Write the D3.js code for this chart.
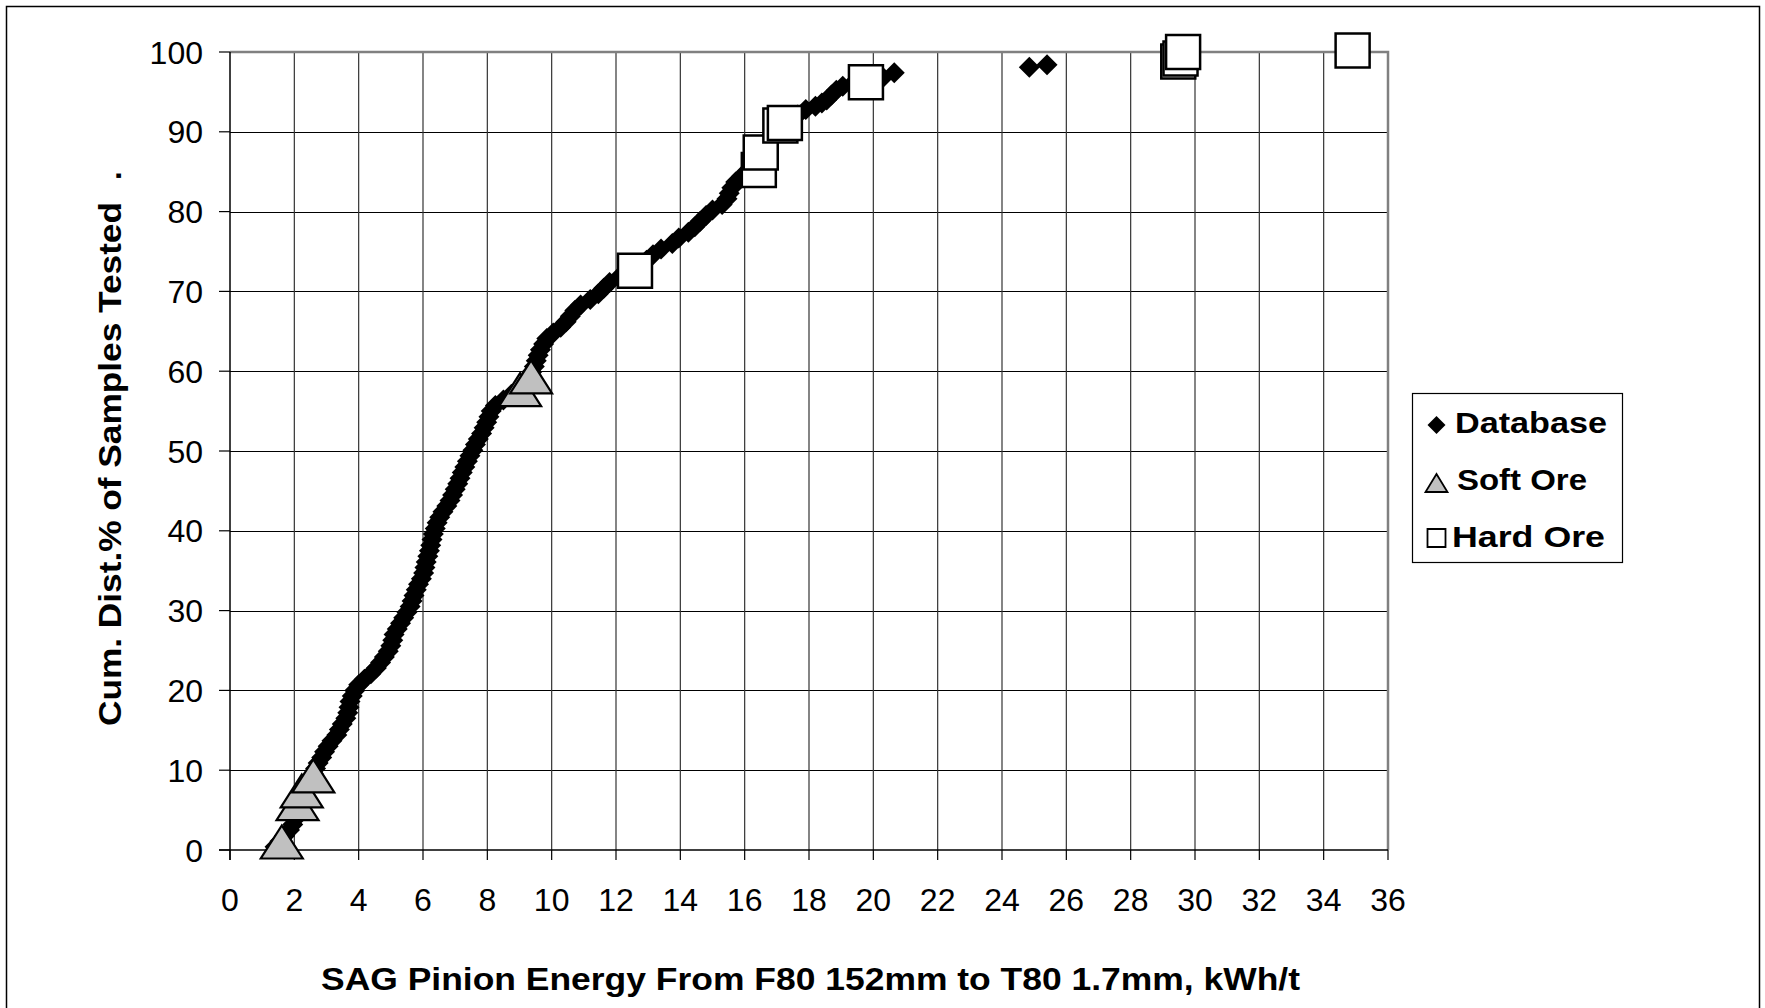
<!DOCTYPE html>
<html>
<head>
<meta charset="utf-8">
<script src="https://cdn.jsdelivr.net/npm/d3@7"></script>
<style>
  body { margin: 0; background: #fff; }
  text { font-family: Arial, "Liberation Sans", sans-serif; fill: #000; }
</style>
</head>
<body>
<div id="chart"></div>
<script>
// database samples: SAG pinion energy (kWh/t) and cumulative % of samples
var dbEnergy = [1.40, 1.55, 1.70, 1.85, 1.95, 2.02, 2.08, 2.14, 2.20, 2.28, 2.36, 2.45, 2.53, 2.60, 2.66, 2.74,
  2.85, 2.94, 3.05, 3.17, 3.32, 3.40, 3.49, 3.60, 3.66, 3.70, 3.73, 3.80, 3.88, 4.00, 4.18, 4.38, 4.55, 4.68,
  4.80, 4.92, 5.00, 5.06, 5.10, 5.20, 5.30, 5.40, 5.50, 5.60, 5.66, 5.72, 5.79, 5.86, 5.95, 6.02, 6.06, 6.10,
  6.15, 6.20, 6.24, 6.28, 6.32, 6.38, 6.44, 6.52, 6.62, 6.74, 6.84, 6.92, 7.00, 7.08, 7.15, 7.22, 7.30, 7.38,
  7.46, 7.55, 7.63, 7.72, 7.82, 7.90, 7.98, 8.05, 8.12, 8.25, 8.50, 8.75, 9.00, 9.15, 9.28, 9.38, 9.46, 9.52,
  9.58, 9.65, 9.75, 9.85, 10.05, 10.28, 10.45, 10.58, 10.72, 10.90, 11.20, 11.45, 11.62, 11.80, 12.10, 12.45,
  12.75, 12.95, 13.15, 13.40, 13.75, 13.95, 14.25, 14.45, 14.62, 14.80, 15.00, 15.30, 15.45, 15.52, 15.60,
  15.72, 15.90, 16.10, 16.22, 16.35, 16.45, 16.55, 16.68, 16.82, 16.98, 17.15, 17.40, 17.65, 17.90, 18.20,
  18.40, 18.55, 18.70, 18.85, 19.05, 19.40, 20.30, 20.65, 24.85, 25.40]
var dbCum = [0.4, 1.1, 1.8, 2.5, 3.2, 3.9, 4.6, 5.3, 6.0, 6.7, 7.4, 8.1, 8.8, 9.5, 10.2, 10.9,
  11.6, 12.3, 13.0, 13.7, 14.4, 15.1, 15.8, 16.5, 17.2, 17.9, 18.6, 19.3, 20.0, 20.7, 21.4, 22.1, 22.8, 23.5,
  24.2, 24.9, 25.6, 26.3, 27.0, 27.7, 28.4, 29.1, 29.8, 30.5, 31.2, 31.9, 32.6, 33.3, 34.0, 34.7, 35.4, 36.1,
  36.8, 37.5, 38.2, 38.9, 39.6, 40.3, 41.0, 41.7, 42.4, 43.1, 43.8, 44.5, 45.2, 45.9, 46.6, 47.3, 48.0, 48.7,
  49.4, 50.1, 50.8, 51.5, 52.2, 52.9, 53.6, 54.3, 55.0, 55.7, 56.4, 57.1, 57.8, 58.5, 59.2, 59.9, 60.6, 61.3,
  62.0, 62.7, 63.4, 64.1, 64.8, 65.5, 66.2, 66.9, 67.6, 68.3, 69.0, 69.7, 70.4, 71.1, 71.8, 72.5,
  73.2, 73.9, 74.6, 75.3, 76.0, 76.7, 77.4, 78.1, 78.8, 79.5, 80.2, 80.9, 81.6, 82.3, 83.0,
  83.7, 84.4, 85.1, 85.8, 86.5, 87.2, 87.9, 88.6, 89.3, 90.0, 90.7, 91.4, 92.1, 92.8, 93.2,
  93.6, 94.0, 94.6, 95.2, 95.7, 96.2, 96.8, 97.4, 98.1, 98.4]

var softEnergy = [1.61, 2.10, 2.23, 2.59, 9.02, 9.36]
var softCum = [1.0, 5.8, 7.4, 9.3, 57.7, 59.3]

var hardEnergy = [12.59, 16.44, 16.50, 17.11, 17.25, 19.77, 29.48, 29.55, 29.63, 34.90]
var hardCum = [72.6, 85.2, 87.4, 90.8, 91.1, 96.2, 98.8, 99.2, 100.0, 100.2]

var xTicks = d3.range(0, 37, 2)
var yTicks = d3.range(0, 101, 10)
var legendNames = ['Database', 'Soft Ore', 'Hard Ore']

var W = 1765, H = 1008
var plot = {left: 230, right: 1388, top: 52, bottom: 850}

var svg = d3.select('#chart').append('svg')
  .attr('width', W).attr('height', H)

svg.append('rect').attr('width', W).attr('height', H).attr('fill', '#fff')

// outer chart border (bottom edge is cut off in the original)
svg.append('path')
  .attr('d', 'M6.5,' + (H + 5) + 'V6.5H1759.5V' + (H + 5))
  .attr('fill', 'none').attr('stroke', '#000').attr('stroke-width', 1.5)

var x = d3.scaleLinear().domain([0, 36]).range([plot.left, plot.right])
var y = d3.scaleLinear().domain([0, 100]).range([plot.bottom, plot.top])

var grid = svg.append('g')
grid.selectAll('line.h').data(yTicks.filter(d => d > 0 && d < 100)).join('line')
  .attr('x1', plot.left).attr('x2', plot.right)
  .attr('y1', d => Math.round(y(d)) + 0.5).attr('y2', d => Math.round(y(d)) + 0.5)
  .attr('stroke', '#000').attr('stroke-width', 1)
grid.selectAll('line.v').data(xTicks.filter(d => d > 0 && d < 36)).join('line')
  .attr('x1', d => x(d)).attr('x2', d => x(d))
  .attr('y1', plot.top).attr('y2', plot.bottom)
  .attr('stroke', '#333').attr('stroke-width', 1.2)

// plot frame: grey on top and right
svg.append('path')
  .attr('d', 'M' + plot.left + ',' + plot.top + 'H' + plot.right + 'V' + plot.bottom)
  .attr('fill', 'none').attr('stroke', '#808080').attr('stroke-width', 2.5)

// axes
var axes = svg.append('g')
axes.append('line').attr('x1', plot.left).attr('x2', plot.left)
  .attr('y1', plot.top).attr('y2', plot.bottom + 10).attr('stroke', '#000').attr('stroke-width', 1.5)
axes.append('line').attr('x1', plot.left - 11).attr('x2', plot.right)
  .attr('y1', plot.bottom).attr('y2', plot.bottom).attr('stroke', '#000').attr('stroke-width', 1.5)

axes.selectAll('line.yt').data(yTicks).join('line')
  .attr('x1', plot.left - 11).attr('x2', plot.left)
  .attr('y1', d => y(d)).attr('y2', d => y(d))
  .attr('stroke', '#000').attr('stroke-width', 1.2)
axes.selectAll('line.xt').data(xTicks).join('line')
  .attr('x1', d => x(d)).attr('x2', d => x(d))
  .attr('y1', plot.bottom).attr('y2', plot.bottom + 10)
  .attr('stroke', '#000').attr('stroke-width', 1.2)

axes.selectAll('text.yl').data(yTicks).join('text')
  .attr('x', 203).attr('y', d => y(d) + 11.5)
  .attr('text-anchor', 'end')
  .style('font-size', '32px')
  .text(d => d)
axes.selectAll('text.xl').data(xTicks).join('text')
  .attr('x', d => x(d)).attr('y', 911)
  .attr('text-anchor', 'middle')
  .style('font-size', '32px')
  .text(d => d)

// axis titles
svg.append('text')
  .attr('x', 321).attr('y', 990)
  .attr('textLength', 979).attr('lengthAdjust', 'spacingAndGlyphs')
  .style('font-size', '32px').style('font-weight', 'bold')
  .text('SAG Pinion Energy From F80 152mm to T80 1.7mm, kWh/t')

svg.append('text')
  .attr('transform', 'translate(121,726) rotate(-90)')
  .attr('textLength', 524).attr('lengthAdjust', 'spacingAndGlyphs')
  .style('font-size', '31px').style('font-weight', 'bold')
  .text('Cum. Dist.% of Samples Tested')
svg.append('text')
  .attr('transform', 'translate(121,180) rotate(-90)')
  .style('font-size', '31px').style('font-weight', 'bold')
  .text('.')

// markers
function diamond(r) {
  return 'M0,' + (-r) + 'L' + r + ',0L0,' + r + 'L' + (-r) + ',0Z'
}
function triangle(w, h) {
  return 'M0,' + (-h / 2) + 'L' + (w / 2) + ',' + (h / 2) + 'L' + (-w / 2) + ',' + (h / 2) + 'Z'
}
function square(s) {
  return 'M' + (-s / 2) + ',' + (-s / 2) + 'h' + s + 'v' + s + 'h' + (-s) + 'Z'
}

var db = dbEnergy.map((v, i) => ({x: v, y: dbCum[i]}))
var soft = softEnergy.map((v, i) => ({x: v, y: softCum[i]}))
var hard = hardEnergy.map((v, i) => ({x: v, y: hardCum[i]}))

svg.append('g').selectAll('path').data(db).join('path')
  .attr('transform', d => 'translate(' + x(d.x) + ',' + y(d.y) + ')')
  .attr('d', diamond(10.5))
  .attr('fill', '#000')

svg.append('g').selectAll('path').data(soft).join('path')
  .attr('transform', d => 'translate(' + x(d.x) + ',' + y(d.y) + ')')
  .attr('d', triangle(42, 33))
  .attr('fill', '#c0c0c0').attr('stroke', '#000').attr('stroke-width', 2.2)
  .attr('stroke-linejoin', 'miter')

svg.append('g').selectAll('path').data(hard).join('path')
  .attr('transform', d => 'translate(' + x(d.x) + ',' + y(d.y) + ')')
  .attr('d', square(34))
  .attr('fill', '#fff').attr('stroke', '#000').attr('stroke-width', 2.5)

// legend
var lg = svg.append('g')
lg.append('rect').attr('x', 1412.5).attr('y', 393.5).attr('width', 210).attr('height', 169)
  .attr('fill', '#fff').attr('stroke', '#000').attr('stroke-width', 1.2)

var legendRows = [
  {y: 433, sy: 425, tx: 1455, w: 152, draw: g => g.append('path').attr('d', diamond(9)).attr('fill', '#000')},
  {y: 490, sy: 483, tx: 1457, w: 130, draw: g => g.append('path').attr('d', triangle(22, 18))
      .attr('fill', '#c0c0c0').attr('stroke', '#000').attr('stroke-width', 1.8)},
  {y: 547, sy: 538, tx: 1452, w: 153, draw: g => g.append('path').attr('d', square(18))
      .attr('fill', '#fff').attr('stroke', '#000').attr('stroke-width', 1.8)}
]
legendRows.forEach((r, i) => {
  r.draw(lg.append('g').attr('transform', 'translate(1436.5,' + r.sy + ')'))
  lg.append('text').attr('x', r.tx).attr('y', r.y)
    .attr('textLength', r.w).attr('lengthAdjust', 'spacingAndGlyphs')
    .style('font-size', '30px').style('font-weight', 'bold')
    .text(legendNames[i])
})
</script>
</body>
</html>
